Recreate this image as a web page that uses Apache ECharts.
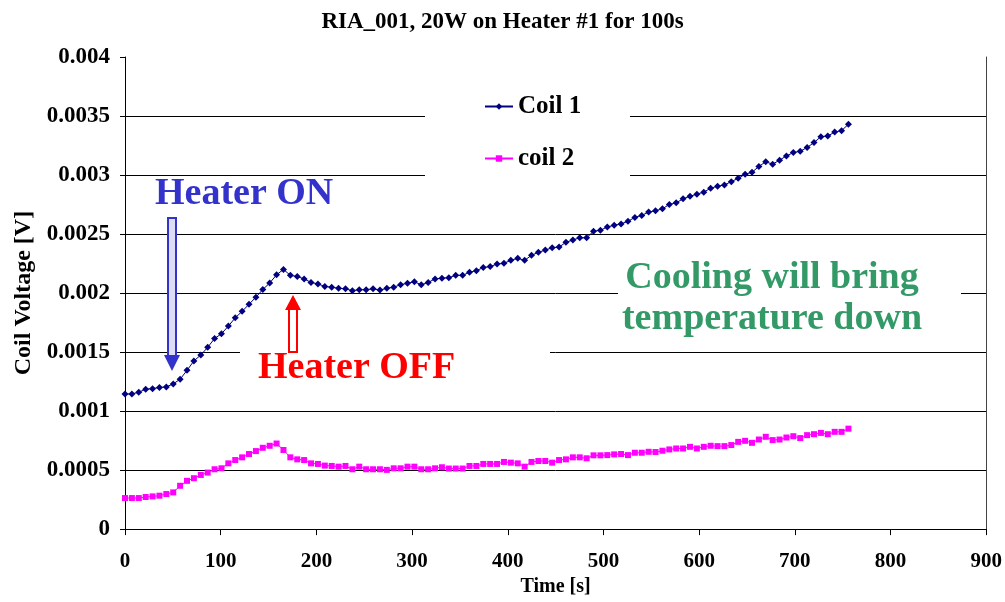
<!DOCTYPE html>
<html>
<head>
<meta charset="utf-8">
<script src="https://cdn.jsdelivr.net/npm/echarts@6/dist/echarts.min.js"></script>
<style>
  html, body { margin: 0; padding: 0; background: #fff; }
  #main { width: 1005px; height: 602px; }
</style>
</head>
<body>
<div id="main"></div>
<script>
var serif = '"Liberation Serif", "Times New Roman", serif'

// time of each sample [s]
var times = [0, 7.2, 14.4, 21.6, 28.8, 36, 43.2, 50.4, 57.6, 64.8, 72, 79.2, 86.4, 93.6, 100.8, 108,
  115.2, 122.4, 129.6, 136.8, 144, 151.2, 158.4, 165.6, 172.8, 180, 187.2, 194.4, 201.6, 208.8, 216,
  223.2, 230.4, 237.6, 244.8, 252, 259.2, 266.4, 273.6, 280.8, 288, 295.2, 302.4, 309.6, 316.8, 324,
  331.2, 338.4, 345.6, 352.8, 360, 367.2, 374.4, 381.6, 388.8, 396, 403.2, 410.4, 417.6, 424.8, 432,
  439.2, 446.4, 453.6, 460.8, 468, 475.2, 482.4, 489.6, 496.8, 504, 511.2, 518.4, 525.6, 532.8, 540,
  547.2, 554.4, 561.6, 568.8, 576, 583.2, 590.4, 597.6, 604.8, 612, 619.2, 626.4, 633.6, 640.8, 648,
  655.2, 662.4, 669.6, 676.8, 684, 691.2, 698.4, 705.6, 712.8, 720, 727.2, 734.4, 741.6, 748.8, 756]

// Coil 1 voltage [V]
var coil1 = [0.001145, 0.001145, 0.00116, 0.001185, 0.00119, 0.0012, 0.001205, 0.00123, 0.00127, 0.001345,
  0.001425, 0.001475, 0.00154, 0.001615, 0.001655, 0.00172, 0.00179, 0.001845, 0.001905, 0.001965,
  0.00203, 0.002085, 0.002155, 0.0022, 0.00215, 0.00214, 0.00212, 0.00209, 0.002077, 0.002056,
  0.00205, 0.00204, 0.002036, 0.00202, 0.002028, 0.002028, 0.002036, 0.002025, 0.00204, 0.00205,
  0.00207, 0.002084, 0.002095, 0.00207, 0.00209, 0.00212, 0.002126, 0.00213, 0.00215, 0.00215,
  0.002176, 0.00219, 0.002216, 0.002224, 0.002246, 0.002252, 0.002277, 0.002294, 0.002277, 0.00232,
  0.002345, 0.002364, 0.002384, 0.00239, 0.00243, 0.00245, 0.002468, 0.002468, 0.002524, 0.002532,
  0.00256, 0.002574, 0.002586, 0.002608, 0.002641, 0.002658, 0.002686, 0.002697, 0.002714, 0.00275,
  0.002765, 0.002798, 0.00282, 0.002838, 0.002855, 0.002888, 0.002905, 0.002916, 0.002944, 0.002972,
  0.003006, 0.003023, 0.003073, 0.003112, 0.003092, 0.003126, 0.003162, 0.00319, 0.003202, 0.003233,
  0.003275, 0.003325, 0.00333, 0.003364, 0.003376, 0.00343]

// coil 2 voltage [V]
var coil2 = [0.000263, 0.000263, 0.000263, 0.000272, 0.000277, 0.000283, 0.000297, 0.000311, 0.000367, 0.000409,
  0.000431, 0.000459, 0.000479, 0.000507, 0.000515, 0.000557, 0.000585, 0.000608, 0.000636, 0.000661,
  0.000689, 0.000706, 0.000725, 0.00067, 0.000608, 0.000591, 0.000585, 0.000557, 0.000552, 0.000538,
  0.000535, 0.000529, 0.000535, 0.000507, 0.000529, 0.000507, 0.000507, 0.000507, 0.000502, 0.000515,
  0.000515, 0.000529, 0.000529, 0.000507, 0.000507, 0.000515, 0.000524, 0.000513, 0.000513, 0.000513,
  0.000535, 0.000535, 0.000552, 0.000552, 0.000552, 0.000569, 0.000563, 0.000557, 0.000529, 0.000569,
  0.000577, 0.000577, 0.000563, 0.000585, 0.000591, 0.000608, 0.000608, 0.0006, 0.000625, 0.000625,
  0.000627, 0.000633, 0.000636, 0.000627, 0.000647, 0.000647, 0.000655, 0.000653, 0.000664, 0.000675,
  0.000683, 0.000683, 0.000697, 0.000683, 0.000697, 0.000706, 0.000703, 0.000703, 0.000712, 0.000739,
  0.000748, 0.000731, 0.000759, 0.000782, 0.000754, 0.000759, 0.000776, 0.000787, 0.000771, 0.000796,
  0.000804, 0.000815, 0.000804, 0.000824, 0.000824, 0.000851]

var seriesNames = ['Coil 1', 'coil 2']

function pairs (vals) {
  var out = []
  for (var i = 0; i < vals.length; i++) {
    out.push([times[i], vals[i]])
  }
  return out
}

var myChart = echarts.init(document.getElementById('main'))

var gridColors = []
for (var k = 0; k < 8; k++) gridColors.push('#000')
gridColors.push('rgba(0,0,0,0)') // no line at the top (0.004)

var option = {
  animation: false,
  backgroundColor: '#fff',
  title: {
    text: 'RIA_001, 20W on Heater #1 for 100s',
    left: 'center',
    top: 6,
    textStyle: { fontFamily: serif, fontWeight: 'bold', fontSize: 23, color: '#000' }
  },
  grid: { left: 125, right: 15, top: 57, bottom: 69 },
  legend: {
    data: seriesNames,
    orient: 'vertical',
    left: 479,
    top: 89,
    itemWidth: 28,
    itemHeight: 8,
    itemGap: 27,
    textStyle: { fontFamily: serif, fontWeight: 'bold', fontSize: 25, color: '#000' }
  },
  xAxis: {
    type: 'value',
    min: 0,
    max: 900,
    interval: 100,
    name: 'Time [s]',
    nameLocation: 'middle',
    nameGap: 46,
    nameTextStyle: { fontFamily: serif, fontWeight: 'bold', fontSize: 20, color: '#000' },
    axisLine: { lineStyle: { color: '#000', width: 1 } },
    axisTick: { length: 6, lineStyle: { color: '#000' } },
    axisLabel: { margin: 22, fontFamily: serif, fontWeight: 'bold', fontSize: 21, color: '#000' },
    splitLine: { show: false }
  },
  yAxis: [
    {
      type: 'value',
      min: 0,
      max: 0.004,
      interval: 0.0005,
      name: 'Coil Voltage [V]',
      nameLocation: 'middle',
      nameGap: 88,
      nameTextStyle: { fontFamily: serif, fontWeight: 'bold', fontSize: 24, color: '#000' },
      axisLine: { show: true, lineStyle: { color: '#000', width: 1 } },
      axisTick: { show: true, length: 5, lineStyle: { color: '#000' } },
      axisLabel: { margin: 15, fontFamily: serif, fontWeight: 'bold', fontSize: 23, color: '#000' },
      splitLine: { show: true, lineStyle: { color: gridColors, width: 1 } }
    },
    {
      type: 'value',
      position: 'right',
      min: 0,
      max: 0.004,
      axisLine: { show: true, lineStyle: { color: '#444', width: 1 } },
      axisTick: { show: false },
      axisLabel: { show: false },
      splitLine: { show: false }
    }
  ],
  graphic: [
    // white boxes behind the text boxes (they cut the gridlines)
    { type: 'rect', z: 1, shape: { x: 425, y: 80, width: 205, height: 106 }, style: { fill: '#fff' } },
    { type: 'rect', z: 1, shape: { x: 240, y: 338, width: 310, height: 56 }, style: { fill: '#fff' } },
    { type: 'rect', z: 1, shape: { x: 618, y: 255, width: 343, height: 90 }, style: { fill: '#fff' } },
    // blue arrow
    { type: 'rect', z: 5, shape: { x: 168, y: 218, width: 8, height: 138 }, style: { fill: '#dcdcf6', stroke: '#3333cc', lineWidth: 2 } },
    { type: 'polygon', z: 5, shape: { points: [[164, 355], [180, 355], [172, 371]] }, style: { fill: '#3333cc' } },
    // red arrow
    { type: 'rect', z: 5, shape: { x: 289, y: 309, width: 8, height: 43 }, style: { fill: '#fff', stroke: '#ff0000', lineWidth: 2 } },
    { type: 'polygon', z: 5, shape: { points: [[285, 310], [301, 310], [293, 295]] }, style: { fill: '#ff0000' } },
    // labels
    { type: 'text', z: 6, x: 155, y: 194, style: { text: 'Heater ON', font: 'bold 38px ' + serif, fill: '#3333cc', textAlign: 'left', textVerticalAlign: 'middle' } },
    { type: 'text', z: 6, x: 258, y: 368, style: { text: 'Heater OFF', font: 'bold 38px ' + serif, fill: '#ff0000', textAlign: 'left', textVerticalAlign: 'middle' } },
    { type: 'text', z: 6, x: 772, y: 278, style: { text: 'Cooling will bring', font: 'bold 38px ' + serif, fill: '#339966', textAlign: 'center', textVerticalAlign: 'middle' } },
    { type: 'text', z: 6, x: 772, y: 319, style: { text: 'temperature down', font: 'bold 38px ' + serif, fill: '#339966', textAlign: 'center', textVerticalAlign: 'middle' } }
  ],
  series: [
    {
      name: seriesNames[0],
      type: 'line',
      data: pairs(coil1),
      symbol: 'diamond',
      symbolSize: 7,
      lineStyle: { color: '#000080', width: 1 },
      itemStyle: { color: '#000080' }
    },
    {
      name: seriesNames[1],
      type: 'line',
      data: pairs(coil2),
      symbol: 'rect',
      symbolSize: 6,
      lineStyle: { color: '#ff00ff', width: 1 },
      itemStyle: { color: '#ff00ff' }
    }
  ]
}
myChart.setOption(option)
</script>
</body>
</html>
